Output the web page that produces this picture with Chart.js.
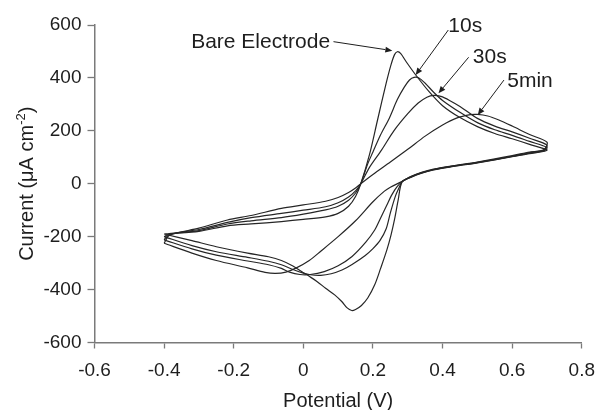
<!DOCTYPE html>
<html><head><meta charset="utf-8">
<script src="https://cdn.jsdelivr.net/npm/chart.js@4.4.1/dist/chart.umd.min.js"></script>
<style>html,body{margin:0;padding:0;background:#fff}#wrap{width:606px;height:410px}</style>
</head><body><div id="wrap"><canvas id="c" width="606" height="410"></canvas></div>
<script>
// ---- Data (potential in V, current in µA cm^-2), scan order: forward -0.4 -> 0.7, then reverse back to -0.4
const bareV = [-0.4,-0.385,-0.3,-0.218,-0.15,-0.063,0.0,0.064,0.1,0.13,0.15,0.165,0.19,0.213,0.238,0.252,0.262,0.27,0.28,0.295,0.323,0.36,0.4,0.45,0.5,0.55,0.6,0.65,0.7,
  0.69,0.65,0.6,0.5,0.42,0.374,0.34,0.31,0.284,0.272,0.262,0.252,0.24,0.222,0.205,0.185,0.167,0.15,0.139,0.125,0.111,0.09,0.064,0.04,0.017,0.0,-0.03,-0.063,-0.1,-0.16,-0.25,-0.32,-0.4];
const bareI = [-190,-188,-180,-159,-152,-143,-135,-125,-112,-85,-48,0,110,240,380,450,488,499,492,462,411,350,295,250,216,190,170,149,128,
  122,114,102,79,63,52,40,25,8,-65,-135,-193,-250,-320,-382,-432,-460,-475,-479,-468,-446,-420,-395,-370,-350,-336,-311,-290,-276,-262,-238,-215,-190];

const tenSecV = [-0.4,-0.385,-0.3,-0.218,-0.15,-0.063,0.0,0.064,0.1,0.13,0.15,0.165,0.185,0.2,0.222,0.247,0.27,0.29,0.305,0.318,0.332,0.35,0.375,0.4,0.45,0.5,0.55,0.6,0.65,0.7,
  0.69,0.65,0.6,0.5,0.42,0.374,0.34,0.31,0.284,0.275,0.265,0.25,0.238,0.22,0.2,0.177,0.14,0.111,0.08,0.05,0.02,0.0,-0.03,-0.063,-0.1,-0.16,-0.25,-0.32,-0.4];
const tenSecI = [-200,-190,-177,-152,-140,-128,-115,-99,-85,-62,-35,0,75,120,185,248,318,365,392,402,400,380,345,315,270,231,204,183,160,137,
  124,116,103,80,64,53,41,26,8,-15,-45,-110,-170,-215,-245,-272,-305,-326,-340,-346,-344,-338,-324,-306,-293,-278,-257,-234,-200];

const thirtySecV = [-0.4,-0.385,-0.3,-0.218,-0.15,-0.063,0.0,0.064,0.1,0.13,0.15,0.165,0.19,0.225,0.26,0.3,0.33,0.355,0.375,0.395,0.42,0.45,0.5,0.55,0.6,0.65,0.7,
  0.69,0.65,0.6,0.5,0.42,0.374,0.34,0.31,0.284,0.27,0.255,0.24,0.22,0.205,0.18,0.14,0.1,0.06,0.02,-0.01,-0.04,-0.063,-0.1,-0.16,-0.25,-0.32,-0.4];
const thirtySecI = [-212,-192,-173,-146,-128,-112,-100,-87,-72,-50,-27,0,62,128,200,265,305,327,334,330,315,292,247,218,196,172,146,
  126,118,104,81,65,54,42,27,8,-10,-40,-80,-135,-175,-220,-275,-310,-332,-343,-343,-334,-320,-306,-292,-270,-246,-212];

const fiveMinV = [-0.4,-0.385,-0.3,-0.218,-0.15,-0.063,0.0,0.064,0.1,0.13,0.15,0.165,0.2,0.25,0.3,0.35,0.4,0.44,0.48,0.5,0.53,0.56,0.6,0.65,0.7,
  0.69,0.65,0.6,0.5,0.42,0.374,0.34,0.31,0.284,0.25,0.233,0.2,0.15,0.1,0.05,0.017,-0.02,-0.05,-0.08,-0.11,-0.16,-0.25,-0.32,-0.4];
const fiveMinI = [-225,-195,-168,-137,-120,-93,-80,-66,-52,-33,-16,0,35,82,130,180,222,248,261,262,256,242,218,186,157,
  128,120,106,82,66,55,43,28,9,-13,-28,-68,-140,-200,-255,-290,-318,-334,-339,-335,-318,-290,-262,-225];

const seriesNames = ['Bare Electrode', '10s', '30s', '5min'];
const potentialTicks = [-0.6,-0.4,-0.2,0,0.2,0.4,0.6,0.8];
const currentTicks = [-600,-400,-200,0,200,400,600];

// ---- Annotation layout (data units)
const annotations = [
  {label:'Bare Electrode', text:[-0.3223,513], from:[0.0866,537], to:[0.2557,503]},
  {label:'10s',            text:[0.4165,575],  from:[0.4165,581], to:[0.3226,411]},
  {label:'30s',            text:[0.487,455],   from:[0.4749,478], to:[0.3883,342]},
  {label:'5min',           text:[0.5857,367],  from:[0.5764,392], to:[0.5011,260]}
];

const FONT = "'Liberation Sans', Arial, Helvetica, sans-serif";
const INK = '#1e1e1e';
const AXIS = '#7a7a7a';

function pts(vs, is){ return vs.map((v,k)=>({x:v, y:is[k]})); }
const curves = [[bareV,bareI],[tenSecV,tenSecI],[thirtySecV,thirtySecI],[fiveMinV,fiveMinI]];
const datasets = curves.map((c,k)=>({
  label: seriesNames[k], data: pts(c[0],c[1]), showLine:true, pointRadius:0,
  borderColor:'#262626', borderWidth:1.2, tension:0.3, fill:false
}));

const overlay = {
  id:'overlay',
  afterDraw(chart){
    const {ctx, scales:{x,y}, chartArea:ca} = chart;
    ctx.save();
    ctx.fillStyle = INK; ctx.strokeStyle = INK; ctx.lineWidth = 1;
    ctx.font = `21px ${FONT}`; ctx.textAlign='left'; ctx.textBaseline='alphabetic';
    annotations.forEach(a=>{
      ctx.fillText(a.label, x.getPixelForValue(a.text[0]), y.getPixelForValue(a.text[1]));
      const sx=x.getPixelForValue(a.from[0]), sy=y.getPixelForValue(a.from[1]);
      const ex=x.getPixelForValue(a.to[0]), ey=y.getPixelForValue(a.to[1]);
      const ang=Math.atan2(ey-sy,ex-sx), L=7, W=3;
      const bx=ex-L*Math.cos(ang), by=ey-L*Math.sin(ang);
      ctx.beginPath(); ctx.moveTo(sx,sy); ctx.lineTo(bx,by); ctx.stroke();
      ctx.beginPath(); ctx.moveTo(ex,ey);
      ctx.lineTo(bx+W*Math.sin(ang), by-W*Math.cos(ang));
      ctx.lineTo(bx-W*Math.sin(ang), by+W*Math.cos(ang));
      ctx.closePath(); ctx.fill();
    });
    // x title
    ctx.font = `20px ${FONT}`;
    ctx.textAlign='center';
    ctx.fillText('Potential (V)', (ca.left+ca.right)/2, ca.bottom+64.5);
    // y title with superscript
    const main='Current (\u03bcA cm', sup='-2', end=')';
    ctx.font = `20px ${FONT}`; const w1=ctx.measureText(main).width, w3=ctx.measureText(end).width;
    ctx.font = `13px ${FONT}`; const w2=ctx.measureText(sup).width;
    const total=w1+w2+w3;
    ctx.translate(33,(ca.top+ca.bottom)/2); ctx.rotate(-Math.PI/2);
    ctx.textAlign='left';
    let lx=-total/2;
    ctx.font = `20px ${FONT}`; ctx.fillText(main,lx,0); lx+=w1;
    ctx.font = `13px ${FONT}`; ctx.fillText(sup,lx,-8); lx+=w2;
    ctx.font = `20px ${FONT}`; ctx.fillText(end,lx,0);
    ctx.restore();
  }
};

new Chart(document.getElementById('c'), {
  type:'scatter',
  data:{datasets},
  options:{
    responsive:false, animation:false,
    layout:{padding:{left:0,right:15,top:25,bottom:0}},
    plugins:{legend:{display:false}, tooltip:{enabled:false}, title:{display:false}},
    scales:{
      x:{type:'linear', min:-0.6, max:0.8,
        afterBuildTicks:s=>{s.ticks=potentialTicks.map(v=>({value:v}));},
        afterFit:s=>{s.height=67.5;},
        grid:{drawOnChartArea:false, drawTicks:true, tickLength:6, color:AXIS, tickWidth:1.3},
        border:{display:true, color:AXIS, width:1.5},
        ticks:{color:INK, font:{family:FONT,size:19}, padding:11, maxRotation:0,
          callback:v=> v===0 ? '0' : (Math.round(v*10)/10).toFixed(1)}
      },
      y:{type:'linear', min:-600, max:600,
        afterBuildTicks:s=>{s.ticks=currentTicks.map(v=>({value:v}));},
        afterFit:s=>{s.width=94.5;},
        grid:{drawOnChartArea:false, drawTicks:true, tickLength:7, color:AXIS, tickWidth:1.3},
        border:{display:true, color:AXIS, width:1.5},
        ticks:{color:INK, font:{family:FONT,size:19}, padding:6, callback:v=>String(v)}
      }
    }
  },
  plugins:[overlay]
});
</script></body></html>
